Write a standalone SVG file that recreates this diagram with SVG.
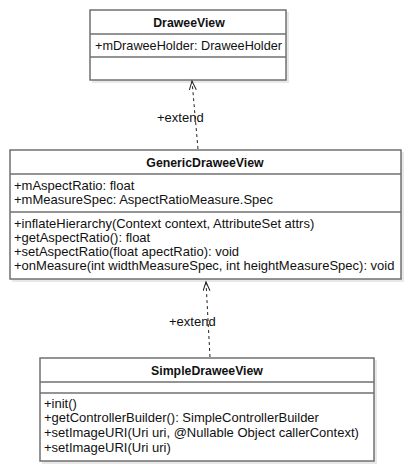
<svg xmlns="http://www.w3.org/2000/svg" width="410" height="470" viewBox="0 0 410 470">
<defs>
<style>
.box{fill:#fff;stroke:#707070;stroke-width:1.5}
.shadow{fill:#e8e8e8}
.sep{stroke:#707070;stroke-width:1.5}
.t{font-family:"Liberation Sans",Arial,sans-serif;font-size:13px;fill:#111}
.b{font-family:"Liberation Sans",Arial,sans-serif;font-size:12.3px;font-weight:bold;fill:#111;text-anchor:middle}
.conn{stroke:#222;stroke-width:1;stroke-dasharray:3,3;fill:none}
</style>
<marker id="open" markerWidth="12" markerHeight="12" refX="9" refY="3.5" orient="auto" markerUnits="userSpaceOnUse">
<path d="M0,0 L9,3.5 L0,7" fill="none" stroke="#222" stroke-width="1"/>
</marker>
</defs>
<rect width="410" height="470" fill="#fff"/>
<g id="DraweeView">
<rect class="shadow" x="92" y="12" width="197" height="71"/>
<rect class="box" x="90" y="10" width="196" height="70"/>
<line class="sep" x1="90" y1="34" x2="286" y2="34"/>
<line class="sep" x1="90" y1="57" x2="286" y2="57"/>
<text class="b" x="189" y="27">DraweeView</text>
<text class="t" x="95" y="50" textLength="187" lengthAdjust="spacingAndGlyphs">+mDraweeHolder: DraweeHolder</text>
</g>
<g id="GenericDraweeView">
<rect class="shadow" x="12" y="152" width="392" height="130"/>
<rect class="box" x="10" y="150" width="391" height="129"/>
<line class="sep" x1="10" y1="174" x2="401" y2="174"/>
<line class="sep" x1="10" y1="212" x2="401" y2="212"/>
<text class="b" x="205" y="167">GenericDraweeView</text>
<text class="t" x="14" y="190">+mAspectRatio: float</text>
<text class="t" x="14" y="204">+mMeasureSpec: AspectRatioMeasure.Spec</text>
<text class="t" x="14" y="228">+inflateHierarchy(Context context, AttributeSet attrs)</text>
<text class="t" x="14" y="242">+getAspectRatio(): float</text>
<text class="t" x="14" y="256">+setAspectRatio(float apectRatio): void</text>
<text class="t" x="14" y="270">+onMeasure(int widthMeasureSpec, int heightMeasureSpec): void</text>
</g>
<g id="SimpleDraweeView">
<rect class="shadow" x="42" y="360" width="335" height="104"/>
<rect class="box" x="40" y="358" width="334" height="103"/>
<line class="sep" x1="40" y1="382" x2="374" y2="382"/>
<line class="sep" x1="40" y1="393" x2="374" y2="393"/>
<text class="b" x="207" y="375">SimpleDraweeView</text>
<text class="t" x="44" y="408">+init()</text>
<text class="t" x="44" y="422">+getControllerBuilder(): SimpleControllerBuilder</text>
<text class="t" x="44" y="437">+setImageURI(Uri uri, @Nullable Object callerContext)</text>
<text class="t" x="44" y="452">+setImageURI(Uri uri)</text>
</g>
<g id="connectors">
<line class="conn" x1="198" y1="149" x2="192" y2="81" marker-end="url(#open)"/>
<text class="t" x="157" y="122">+extend</text>
<line class="conn" x1="210" y1="357" x2="206" y2="282" marker-end="url(#open)"/>
<text class="t" x="169" y="326">+extend</text>
</g>
</svg>
